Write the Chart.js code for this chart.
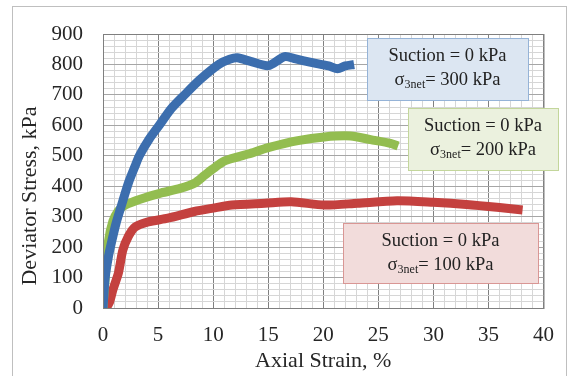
<!DOCTYPE html>
<html>
<head>
<meta charset="utf-8">
<script src="https://cdn.jsdelivr.net/npm/chart.js@4/dist/chart.umd.min.js"></script>
<style>
  body { margin: 0; background: #fff; }
  canvas { display: block; }
</style>
</head>
<body>
<canvas id="stressStrain" width="569" height="376"></canvas>
<script>
// axial strain (%) and deviator stress (kPa)
const strain300 = [0, 0.2, 0.5, 0.8, 1.2, 1.7, 2.3, 2.9, 3.3, 4.2, 5.1, 6.2, 7.4, 8.8, 10.5, 11.5, 12.2, 13.4, 15.0, 16.5, 17.5, 19.0, 20.5, 21.3, 22.0, 22.8];
const stress300 = [0, 100, 170, 220, 280, 340, 410, 465, 500, 555, 600, 655, 700, 750, 800, 817, 822, 810, 796, 826, 818, 806, 795, 786, 795, 800];

const strain200 = [0, 0.2, 0.5, 0.9, 1.4, 2.0, 2.8, 3.8, 5.3, 7.0, 8.3, 9.2, 9.9, 11.1, 13.2, 15.0, 17.7, 20.1, 22.5, 24.3, 26.1, 26.8];
const stress200 = [0, 100, 220, 285, 320, 338, 350, 362, 378, 393, 410, 435, 455, 484, 506, 527, 550, 562, 565, 553, 541, 532];

const strain100 = [0.3, 0.6, 0.9, 1.4, 1.8, 2.3, 2.9, 4.1, 5.9, 8.3, 10.0, 11.7, 14.7, 17.1, 20.1, 23.1, 26.7, 30.0, 33.0, 36.0, 38.1];
const stress100 = [0, 20, 60, 115, 190, 235, 266, 283, 295, 317, 328, 338, 344, 349, 338, 344, 352, 347, 340, 330, 322];

const seriesLabels = ["300 kPa", "200 kPa", "100 kPa"];
const xTicks = [0, 5, 10, 15, 20, 25, 30, 35, 40];
const yTicks = [0, 100, 200, 300, 400, 500, 600, 700, 800, 900];

const toPoints = (xs, ys) => xs.map((x, i) => ({ x: x, y: ys[i] }));

const serif = "'Liberation Serif', 'Times New Roman', serif";

// text boxes + outer frame + y title
const boxes = [
  { x: 367, y: 38, w: 161, h: 62, fill: "#dce6f2", stroke: "#95b3d7", net: "300" },
  { x: 408, y: 108, w: 150, h: 62, fill: "#ebf1de", stroke: "#c3d69b", net: "200" },
  { x: 343, y: 223, w: 195, h: 60, fill: "#f2dcdb", stroke: "#d99694", net: "100" },
];

const extras = {
  id: "extras",
  afterDraw(chart) {
    const ctx = chart.ctx;
    ctx.save();
    ctx.strokeStyle = "#bfbfbf";
    ctx.lineWidth = 1;
    ctx.strokeRect(12.5, 6.5, 554, 380);

    const area = chart.chartArea;
    ctx.strokeStyle = "#7f7f7f";
    ctx.strokeRect(area.left + 0.5, area.top + 0.5, area.right - area.left, area.bottom - area.top);

    boxes.forEach((b) => {
      ctx.fillStyle = b.fill;
      ctx.fillRect(b.x, b.y, b.w, b.h);
      ctx.strokeStyle = b.stroke;
      ctx.strokeRect(b.x + 0.5, b.y + 0.5, b.w, b.h);
      const cx = b.x + b.w / 2;
      ctx.fillStyle = "#222";
      ctx.textBaseline = "middle";
      ctx.textAlign = "center";
      ctx.font = "18.5px " + serif;
      ctx.fillText("Suction = 0 kPa", cx, b.y + 18);
      // sigma line with subscript
      const big = "18.5px " + serif, small = "12px " + serif;
      ctx.font = big; const w1 = ctx.measureText("σ").width;
      ctx.font = small; const w2 = ctx.measureText("3net").width;
      ctx.font = big; const w3 = ctx.measureText("= " + b.net + " kPa").width;
      let x0 = cx - (w1 + w2 + w3) / 2;
      const ly = b.y + 42;
      ctx.textAlign = "left";
      ctx.font = big; ctx.fillText("σ", x0, ly);
      ctx.font = small; ctx.fillText("3net", x0 + w1, ly + 5);
      ctx.font = big; ctx.fillText("= " + b.net + " kPa", x0 + w1 + w2, ly);
    });

    ctx.translate(30, 196);
    ctx.rotate(-Math.PI / 2);
    ctx.textAlign = "center";
    ctx.textBaseline = "middle";
    ctx.fillStyle = "#262626";
    ctx.font = "22px " + serif;
    ctx.fillText("Deviator Stress, kPa", 0, 0);
    ctx.restore();
  },
};

new Chart(document.getElementById("stressStrain"), {
  type: "line",
  data: {
    datasets: [
      { label: seriesLabels[0], data: toPoints(strain300, stress300), borderColor: "#3c6eae", order: 1 },
      { label: seriesLabels[1], data: toPoints(strain200, stress200), borderColor: "#93bd50", order: 2 },
      { label: seriesLabels[2], data: toPoints(strain100, stress100), borderColor: "#c4413f", order: 3 },
    ],
  },
  options: {
    responsive: false,
    animation: false,
    parsing: false,
    elements: {
      line: { borderWidth: 9, tension: 0.25, borderCapStyle: "butt" },
      point: { radius: 0 },
    },
    layout: { padding: { left: 0, top: 34, right: 21, bottom: 0 } },
    plugins: { legend: { display: false }, tooltip: { enabled: false } },
    scales: {
      x: {
        type: "linear",
        min: 0,
        max: 40,
        afterFit: (s) => { s.height = 68; },
        ticks: {
          stepSize: 1,
          autoSkip: false,
          maxRotation: 0,
          padding: 15,
          color: "#262626",
          font: { family: serif, size: 21 },
          callback: (v) => (xTicks.includes(v) ? v : ""),
        },
        grid: {
          drawTicks: false,
          color: (c) => (c.tick && c.tick.value % 5 === 0 ? "#808080" : "#d6d6d6"),
        },
        border: { color: "#7f7f7f" },
        title: {
          display: true,
          text: "Axial Strain, %",
          color: "#262626",
          font: { family: serif, size: 22 },
          padding: { top: 0, bottom: 2 },
        },
      },
      y: {
        min: 0,
        max: 900,
        afterFit: (s) => { s.width = 103; },
        ticks: {
          stepSize: 20,
          autoSkip: false,
          padding: 20,
          color: "#262626",
          font: { family: serif, size: 21 },
          callback: (v) => (yTicks.includes(v) ? v : ""),
        },
        grid: {
          drawTicks: false,
          color: (c) => (c.tick && c.tick.value % 100 === 0 ? "#a6a6a6" : "#d6d6d6"),
        },
        border: { color: "#7f7f7f" },
      },
    },
  },
  plugins: [extras],
});
</script>
</body>
</html>
